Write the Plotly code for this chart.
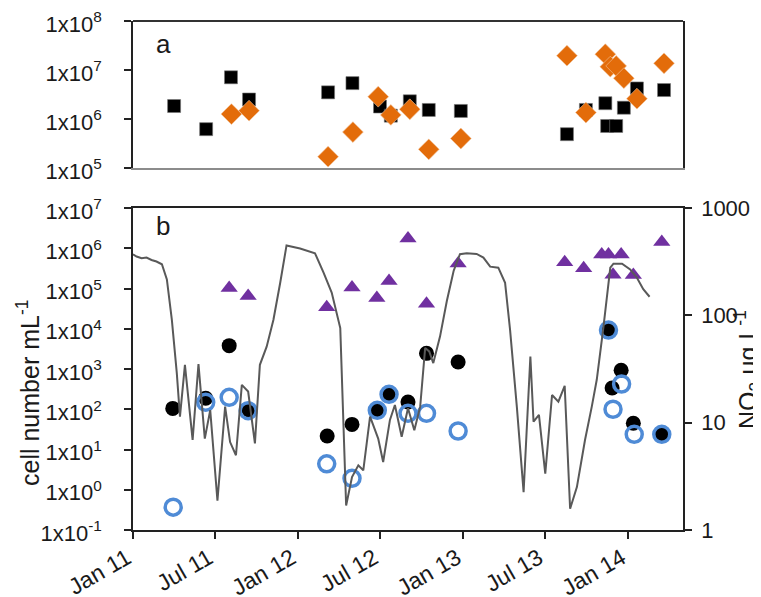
import plotly.graph_objects as go

# ---------------- Data ----------------
# Panel a (top): black squares and orange diamonds
sq_dates = ["2011-04-02", "2011-06-12", "2011-08-06", "2011-09-15", "2012-03-08", "2012-05-01",
            "2012-07-01", "2012-07-25", "2012-09-05", "2012-10-17", "2012-12-27", "2013-08-19",
            "2013-09-30", "2013-11-12", "2013-11-16", "2013-12-06", "2013-12-23", "2014-01-21",
            "2014-03-22"]
sq_vals = [1.84e6, 6.2e5, 7.1e6, 2.5e6, 3.5e6, 5.4e6, 1.8e6, 1.17e6, 2.3e6, 1.53e6, 1.46e6,
           4.9e5, 1.53e6, 2.1e6, 7.2e5, 7.2e5, 1.7e6, 4.2e6, 3.9e6]

dia_dates = ["2011-08-07", "2011-09-15", "2012-03-08", "2012-05-02", "2012-06-27", "2012-07-25",
             "2012-09-05", "2012-10-17", "2012-12-27", "2013-08-19", "2013-09-30", "2013-11-12",
             "2013-11-23", "2013-12-06", "2013-12-23", "2014-01-21", "2014-03-22"]
dia_vals = [1.26e6, 1.48e6, 1.7e5, 5.4e5, 2.85e6, 1.21e6, 1.58e6, 2.4e5, 4.0e5, 1.96e7,
            1.35e6, 2.1e7, 1.17e7, 1.21e7, 6.8e6, 2.6e6, 1.37e7]

# Panel b (bottom): black filled circles, blue open circles, purple triangles
blk_dates = ["2011-03-30", "2011-06-11", "2011-08-02", "2011-09-15", "2012-03-06", "2012-04-30",
             "2012-06-24", "2012-07-21", "2012-09-01", "2012-10-12", "2012-12-21", "2013-11-19",
             "2013-11-27", "2013-12-17", "2014-01-13", "2014-03-17"]
blk_vals = [105, 187, 3800, 96, 21.6, 42, 94, 230, 151, 2450, 1490, 9300, 337, 930, 45, 23.9]

blu_dates = ["2011-03-31", "2011-06-11", "2011-08-02", "2011-09-13", "2012-03-05", "2012-04-30",
             "2012-06-25", "2012-07-21", "2012-09-01", "2012-10-12", "2012-12-21", "2013-11-19",
             "2013-11-29", "2013-12-18", "2014-01-15", "2014-03-17"]
blu_vals = [0.37, 149, 198, 92, 4.4, 1.92, 94, 235, 79, 79, 28.8, 9300, 100, 424, 23.9, 23.9]

tri_dates = ["2011-08-02", "2011-09-13", "2012-03-05", "2012-04-30", "2012-06-24", "2012-07-21",
             "2012-09-01", "2012-10-12", "2012-12-21", "2013-08-14", "2013-09-25", "2013-11-04",
             "2013-11-19", "2013-11-29", "2013-12-17", "2014-01-13", "2014-03-17"]
tri_vals = [1.03e5, 6.5e4, 3.4e4, 1.06e5, 5.8e4, 1.53e5, 1.75e6, 4.2e4, 4.2e5, 4.5e5, 3.2e5,
            7.0e5, 7.0e5, 2.2e5, 7.0e5, 2.16e5, 1.43e6]

# NO3 line (right axis)
no3_dates = ["2011-01-01", "2011-01-09", "2011-01-20", "2011-01-31", "2011-02-11", "2011-02-22",
             "2011-03-06", "2011-03-17", "2011-03-28", "2011-04-08", "2011-04-15", "2011-04-26",
             "2011-05-13", "2011-05-26", "2011-06-09", "2011-06-21", "2011-07-07", "2011-07-24",
             "2011-08-04", "2011-08-17", "2011-08-30", "2011-09-13", "2011-09-28", "2011-10-09",
             "2011-10-24", "2011-11-08", "2011-11-23", "2011-12-07", "2012-01-06", "2012-02-08",
             "2012-02-27", "2012-03-16", "2012-04-04", "2012-04-11", "2012-04-17", "2012-04-30",
             "2012-05-14", "2012-05-25", "2012-06-09", "2012-06-27", "2012-07-08", "2012-07-23",
             "2012-08-03", "2012-08-18", "2012-09-01", "2012-09-15", "2012-09-28", "2012-10-09",
             "2012-10-18", "2012-10-27", "2012-11-11", "2012-11-26", "2012-12-11", "2012-12-25",
             "2013-01-09", "2013-01-31", "2013-02-15", "2013-03-02", "2013-03-20", "2013-04-04",
             "2013-04-15", "2013-04-30", "2013-05-15", "2013-05-30", "2013-06-06", "2013-06-18",
             "2013-07-02", "2013-07-17", "2013-07-31", "2013-08-14", "2013-08-26", "2013-09-10",
             "2013-09-28", "2013-10-13", "2013-10-24", "2013-11-08", "2013-11-23", "2013-11-30",
             "2013-12-19", "2014-01-06", "2014-01-21", "2014-02-04", "2014-02-18"]
no3_vals = [370, 353, 340, 345, 328, 317, 299, 216, 91, 29, 11.4, 34.6,
            6.9, 35.1, 7.1, 13.1, 1.88, 14.1, 6.6, 4.97, 22.5, 19.5, 6.4, 34.6,
            51, 91, 201, 448, 420, 379, 250, 163, 76, 12.2, 1.69, 3.11,
            4.0, 3.6, 11.4, 7.1, 4.3, 10.6, 14.6, 7.4, 13.6, 8.5, 14.1, 49.7,
            46.1, 35.9, 63.7, 136, 259, 371, 379, 373, 345, 284, 278, 201,
            73.6, 14.1, 2.25, 41.4, 10.2, 11.8, 3.35, 18.1, 15.7, 22.0, 1.58, 2.51,
            6.9, 14.1, 25.1, 79, 278, 303, 303, 268, 224, 175, 149]

# Tick labels
top_tickvals = [1e5, 1e6, 1e7, 1e8]
top_ticktext = ["1x10<sup>5</sup>", "1x10<sup>6</sup>", "1x10<sup>7</sup>", "1x10<sup>8</sup>"]
bot_tickvals = [1e-1, 1e0, 1e1, 1e2, 1e3, 1e4, 1e5, 1e6, 1e7]
bot_ticktext = ["1x10<sup>-1</sup>", "1x10<sup>0</sup>", "1x10<sup>1</sup>", "1x10<sup>2</sup>",
                "1x10<sup>3</sup>", "1x10<sup>4</sup>", "1x10<sup>5</sup>", "1x10<sup>6</sup>",
                "1x10<sup>7</sup>"]
no3_tickvals = [1, 10, 100, 1000]
no3_ticktext = ["1", "10", "100", "1000"]
x_range = ["2011-01-01", "2014-05-03"]

# ---------------- Figure ----------------
W, H = 761, 597
OFF = 8  # page body margin offset of the plot div
FONT = "Liberation Sans, Arial, sans-serif"
TXT = "#1a1a1a"
FS = 22


def px_x(p):
    return (p - OFF) / W


def px_y(p):
    return 1 - (p - OFF) / H


xdom = [px_x(133), px_x(683)]
ya_dom = [px_y(168), px_y(21)]
yb_dom = [px_y(530), px_y(208)]

fig = go.Figure()

fig.add_trace(go.Scatter(x=sq_dates, y=sq_vals, mode="markers", xaxis="x", yaxis="y",
                         marker=dict(symbol="square", size=13, color="black",
                                     line=dict(color="#777777", width=0.6))))
fig.add_trace(go.Scatter(x=dia_dates, y=dia_vals, mode="markers", xaxis="x", yaxis="y",
                         marker=dict(symbol="diamond", size=16, color="#E36C0A",
                                     line=dict(color="#f2c29a", width=0.6))))

fig.add_trace(go.Scatter(x=tri_dates, y=tri_vals, mode="markers", xaxis="x2", yaxis="y2",
                         marker=dict(symbol="triangle-up", size=15, color="#7030A0")))
fig.add_trace(go.Scatter(x=blk_dates, y=blk_vals, mode="markers", xaxis="x2", yaxis="y2",
                         marker=dict(symbol="circle", size=15, color="black")))
fig.add_trace(go.Scatter(x=blu_dates, y=blu_vals, mode="markers", xaxis="x2", yaxis="y2",
                         marker=dict(symbol="circle-open", size=16, color="#4F8BD6",
                                     line=dict(width=3.5, color="#4F8BD6"))))
fig.add_trace(go.Scatter(x=no3_dates, y=no3_vals, mode="lines", xaxis="x2", yaxis="y3",
                         line=dict(color="#595959", width=2)))

tickfont = dict(family=FONT, size=FS, color=TXT)
common_y = dict(tickfont=tickfont, ticks="outside", ticklen=7, tickcolor="#222", tickwidth=1.5,
                showgrid=False, zeroline=False, showline=True, linecolor="#222",
                linewidth=1.5, automargin=False, ticklabeloverflow="allow")

fig.update_layout(
    width=W, height=H,
    margin=dict(l=0, r=0, t=0, b=0, autoexpand=False),
    paper_bgcolor="white", plot_bgcolor="white",
    showlegend=False,
    font=dict(family=FONT, size=FS, color=TXT),
    xaxis=dict(domain=xdom, anchor="y", type="date", range=x_range, matches="x2",
               showticklabels=False, ticks="", showgrid=False, zeroline=False,
               showline=True, linecolor="#8c8c8c", linewidth=2, automargin=False),
    yaxis=dict(domain=ya_dom, anchor="x", type="log", range=[5, 8],
               tickvals=top_tickvals, ticktext=top_ticktext, mirror=True,
               ticklabelstandoff=18, ticklabelshift=3, **common_y),
    xaxis2=dict(domain=xdom, anchor="y2", type="date", range=x_range,
                tick0="2011-01-01", dtick="M6", tickformat="%b %y", tickangle=-30,
                tickfont=dict(family=FONT, size=23, color=TXT),
                ticks="outside", ticklen=7, tickcolor="#222", tickwidth=1.5,
                showgrid=False, zeroline=False, showline=True, linecolor="#222",
                linewidth=1.5, mirror=True, ticklabelstandoff=-3, ticklabelshift=-6,
                automargin=False, ticklabeloverflow="allow"),
    yaxis2=dict(domain=yb_dom, anchor="x2", type="log", range=[-1, 7],
                tickvals=bot_tickvals, ticktext=bot_ticktext, ticklabelstandoff=18,
                ticklabelshift=3, **common_y),
    yaxis3=dict(overlaying="y2", anchor="x2", side="right", type="log", range=[0, 3],
                tickvals=no3_tickvals, ticktext=no3_ticktext, ticklabelstandoff=5, **common_y),
)

# top frame line of panel a (dark)
fig.add_shape(type="line", xref="x domain", yref="y domain", x0=0, x1=1, y0=1, y1=1,
              line=dict(color="#333333", width=2))

annots = [
    dict(text="a", x=px_x(163), y=px_y(44), size=26, angle=0),
    dict(text="b", x=px_x(163), y=px_y(226), size=26, angle=0),
    dict(text="cell number mL<sup>-1</sup>", x=px_x(28), y=px_y(393), size=25, angle=-90),
    dict(text="NO<sub>3</sub> μg L<sup>-1</sup>", x=px_x(748), y=px_y(370), size=25, angle=-90),
]
for a in annots:
    fig.add_annotation(xref="paper", yref="paper", showarrow=False, xanchor="center",
                       yanchor="middle", font=dict(family=FONT, size=a["size"], color=TXT),
                       text=a["text"], x=a["x"], y=a["y"], textangle=a["angle"])

fig.write_html("out.html")
